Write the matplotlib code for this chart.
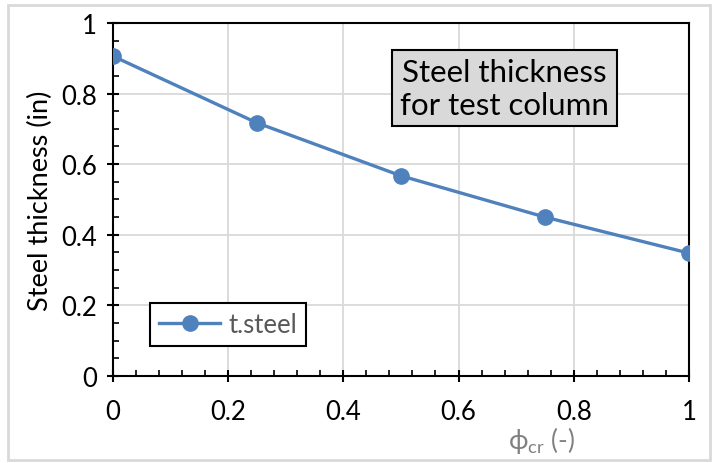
import matplotlib.pyplot as plt
from matplotlib.patches import Rectangle
from matplotlib.ticker import MultipleLocator

phi_cr = [0, 0.25, 0.5, 0.75, 1.0]
t_steel = [0.906, 0.717, 0.567, 0.450, 0.348]
tick_vals = [0, 0.2, 0.4, 0.6, 0.8, 1.0]
tick_labels = ['0', '0.2', '0.4', '0.6', '0.8', '1']

plt.rcParams['font.family'] = ['Lato', 'DejaVu Sans']
plt.rcParams['mathtext.fontset'] = 'custom'
plt.rcParams['mathtext.rm'] = 'Lato'

fig = plt.figure(figsize=(7.14, 4.64), dpi=100)
ax = fig.add_axes([0.158, 0.1875, 0.807, 0.761])

ax.plot(phi_cr, t_steel, color='#4F81BD', lw=2.4, marker='o', ms=11,
        label='t.steel', zorder=3)

ax.set_xlim(0, 1)
ax.set_ylim(0, 1)
ax.set_xticks(tick_vals)
ax.set_xticklabels(tick_labels)
ax.set_yticks(tick_vals)
ax.set_yticklabels(tick_labels)
ax.xaxis.set_minor_locator(MultipleLocator(0.04))
ax.yaxis.set_minor_locator(MultipleLocator(0.05))
ax.tick_params(which='major', direction='inout', length=9, width=1.5,
               labelsize=18.5, pad=7)
ax.tick_params(axis='x', which='major', pad=12)
ax.tick_params(which='minor', direction='in', length=4, width=1.2)
ax.grid(True, which='major', color='#D9D9D9', lw=1.3)
ax.set_axisbelow(True)
for s in ax.spines.values():
    s.set_color('black')
    s.set_linewidth(1.5)

ax.set_ylabel('Steel thickness (in)', fontsize=19.5, labelpad=6)
ax.set_xlabel(r'ϕ$_{\mathrm{cr}}$ (-)', fontsize=19, color='#808080')
ax.xaxis.set_label_coords(0.745, -0.135)

ax.text(0.68, 0.815, 'Steel thickness\nfor test column', transform=ax.transAxes,
        ha='center', va='center', fontsize=22.5, linespacing=1.2,
        bbox=dict(boxstyle='square,pad=0.25', fc='#D9D9D9', ec='black', lw=1.5))

leg = ax.legend(loc='lower left', bbox_to_anchor=(0.064, 0.085), fontsize=18.5,
                fancybox=False, framealpha=1, edgecolor='black',
                handlelength=2.4, borderpad=0.35, borderaxespad=0, handletextpad=0.3)
leg.get_frame().set_linewidth(1.5)
for t in leg.get_texts():
    t.set_color('#595959')

fig.patches.append(Rectangle((0.011, 0.006), 0.984, 0.982, transform=fig.transFigure,
                             fill=False, ec='#D9D9D9', lw=2))

fig.savefig('out.png', dpi=100)
